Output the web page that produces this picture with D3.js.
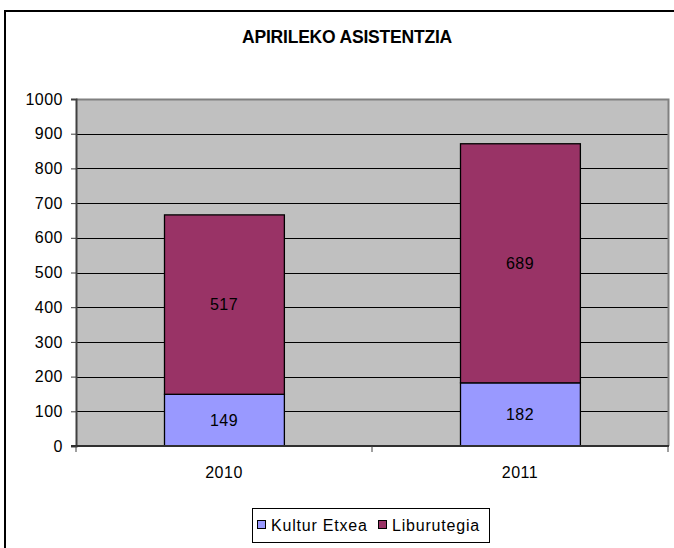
<!DOCTYPE html>
<meta charset="utf-8">
<style>
body { margin: 0; background: #fff; }
text { font-family: "Liberation Sans", Arial, sans-serif; fill: #000; }
.grid line { stroke: #000; stroke-width: 1px; }
.bars rect { stroke: #000; stroke-width: 1.3px; }
</style>
<svg width="674" height="548"></svg>
<script src="https://d3js.org/d3.v7.min.js"></script>
<script>
// chart data
var years = ["2010", "2011"];
var seriesNames = ["Kultur Etxea", "Liburutegia"];
var kulturEtxea = [149, 182];
var liburutegia = [517, 689];
var yTicks = [0, 100, 200, 300, 400, 500, 600, 700, 800, 900, 1000];
var colors = ["#9999FF", "#993366"];

var svg = d3.select("svg");

// outer frame (only top and left edges fall inside the window)
svg.append("path")
    .attr("d", "M5,548 V11 H680")
    .attr("fill", "none")
    .attr("stroke", "#000")
    .attr("stroke-width", 2);

// title
svg.append("text")
    .attr("x", 347)
    .attr("y", 43)
    .attr("text-anchor", "middle")
    .style("font-size", "17.5px")
    .style("font-weight", "bold")
    .style("letter-spacing", "-0.2px")
    .text("APIRILEKO ASISTENTZIA");

var plotLeft = 76, plotRight = 668, plotTop = 99, plotBottom = 446;

var y = d3.scaleLinear().domain([0, 1000]).range([plotBottom, plotTop]);
var x = d3.scaleBand().domain(years).range([plotLeft, plotRight])
    .paddingInner(0.595).paddingOuter(0.2975);
var xStep = d3.scaleBand().domain(years).range([plotLeft, plotRight]);

// plot background
svg.append("rect")
    .attr("x", plotLeft).attr("y", plotTop)
    .attr("width", plotRight - plotLeft).attr("height", plotBottom - plotTop)
    .attr("fill", "#C0C0C0");

// gridlines
svg.append("g").attr("class", "grid")
  .selectAll("line")
  .data(yTicks.filter(function(d) { return d > 0 && d < 1000; }))
  .enter().append("line")
    .attr("x1", plotLeft).attr("x2", plotRight)
    .attr("y1", function(d) { return Math.round(y(d)) + 0.5; })
    .attr("y2", function(d) { return Math.round(y(d)) + 0.5; });

// top and right edges of plot area
svg.append("path")
    .attr("d", "M" + plotLeft + "," + (plotTop + 0.5) + " H" + (plotRight + 0.5) + " V" + plotBottom)
    .attr("fill", "none")
    .attr("stroke", "#808080")
    .attr("stroke-width", 2);

// stacked bars
var stackData = years.map(function(yr, i) {
  return { year: yr, "Kultur Etxea": kulturEtxea[i], "Liburutegia": liburutegia[i] };
});
var stacked = d3.stack().keys(seriesNames)(stackData);

var bars = svg.append("g").attr("class", "bars");
stacked.forEach(function(layer, li) {
  bars.selectAll(".s" + li)
    .data(layer)
    .enter().append("rect")
      .attr("class", "s" + li)
      .attr("x", function(d) { return Math.round(x(d.data.year)) + 0.5; })
      .attr("width", x.bandwidth())
      .attr("y", function(d) { return y(d[1]); })
      .attr("height", function(d) { return y(d[0]) - y(d[1]); })
      .attr("fill", colors[li]);

  bars.selectAll(".l" + li)
    .data(layer)
    .enter().append("text")
      .attr("x", function(d) { return x(d.data.year) + x.bandwidth() / 2; })
      .attr("y", function(d) { return (y(d[0]) + y(d[1])) / 2; })
      .attr("dy", "0.36em")
      .attr("text-anchor", "middle")
      .style("font-size", "16px")
      .style("letter-spacing", "0.5px")
      .text(function(d) { return d[1] - d[0]; });
});

// y axis
var yAxis = svg.append("g")
    .attr("transform", "translate(" + plotLeft + ",0)")
    .call(d3.axisLeft(y).tickValues(yTicks).tickFormat(d3.format("d"))
      .tickSize(5).tickPadding(8));
yAxis.select(".domain").attr("stroke", "#404040").attr("stroke-width", 2);
yAxis.selectAll(".tick line").attr("stroke", "#404040");
yAxis.selectAll("text")
    .style("font-size", "16px")
    .style("letter-spacing", "0.5px")
    .style("font-family", "'Liberation Sans', Arial, sans-serif");

// x axis
var xAxis = svg.append("g")
    .attr("transform", "translate(0," + plotBottom + ")");
xAxis.append("line")
    .attr("x1", plotLeft - 5).attr("x2", plotRight + 1)
    .attr("y1", 0).attr("y2", 0)
    .attr("stroke", "#303030").attr("stroke-width", 2);
xAxis.selectAll(".xt")
    .data([plotLeft, xStep(years[1]), plotRight])
    .enter().append("line")
      .attr("x1", function(d) { return d; }).attr("x2", function(d) { return d; })
      .attr("y1", 0).attr("y2", 6)
      .attr("stroke", "#404040");
xAxis.selectAll(".xl")
    .data(years)
    .enter().append("text")
      .attr("x", function(d) { return xStep(d) + xStep.bandwidth() / 2; })
      .attr("y", 32)
      .attr("text-anchor", "middle")
      .style("font-size", "16px")
      .style("letter-spacing", "0.5px")
      .text(function(d) { return d; });

// legend
var legend = svg.append("g");
legend.append("rect")
    .attr("x", 252.5).attr("y", 508.5)
    .attr("width", 237).attr("height", 34)
    .attr("fill", "#fff").attr("stroke", "#000");
var legendX = [257, 378];
seriesNames.forEach(function(name, i) {
  legend.append("rect")
      .attr("x", legendX[i] + 0.5).attr("y", 520.5)
      .attr("width", 8).attr("height", 8)
      .attr("fill", colors[i]).attr("stroke", "#000");
  legend.append("text")
      .attr("x", legendX[i] + 14)
      .attr("y", 531)
      .style("font-size", "16px")
      .style("letter-spacing", "0.8px")
      .text(name);
});
</script>
